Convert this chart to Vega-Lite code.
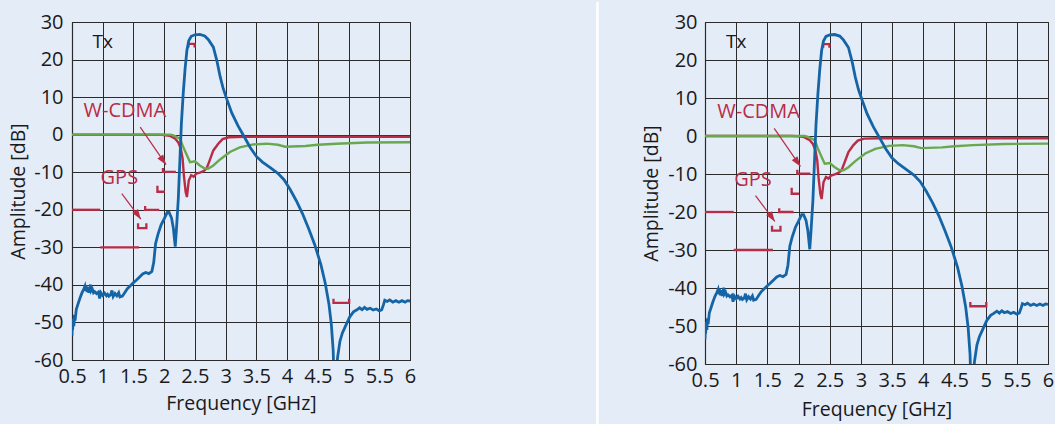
{
  "$schema": "https://vega.github.io/schema/vega-lite/v6.json",
  "background": "#e4ecf8",
  "padding": {"left": 8, "top": 0, "right": 0, "bottom": 0},
  "spacing": 295,
  "bounds": "flush",
  "datasets": {
    "blue": [
      {"f":0.5,"dB":-53.5},{"f":0.505,"dB":-50.5},{"f":0.51,"dB":-52},{"f":0.52,"dB":-49},{"f":0.53,"dB":-51},{"f":0.54,"dB":-48},{"f":0.55,"dB":-49.5},{"f":0.57,"dB":-46.5},{"f":0.6,"dB":-45},{"f":0.63,"dB":-43.5},{"f":0.66,"dB":-42.2},{"f":0.69,"dB":-41.2},{"f":0.71,"dB":-40.4},{"f":0.72,"dB":-41.6},{"f":0.73,"dB":-40.1},{"f":0.745,"dB":-41.9},{"f":0.76,"dB":-40.6},{"f":0.775,"dB":-42.1},{"f":0.79,"dB":-40.9},{"f":0.8,"dB":-39.9},{"f":0.81,"dB":-41.6},{"f":0.83,"dB":-41.1},{"f":0.85,"dB":-42.1},{"f":0.87,"dB":-41.8},{"f":0.9,"dB":-42.3},{"f":0.93,"dB":-41.9},{"f":0.95,"dB":-43.6},{"f":0.97,"dB":-42.1},{"f":1.0,"dB":-42.8},{"f":1.03,"dB":-42.2},{"f":1.06,"dB":-42.9},{"f":1.08,"dB":-42.5},{"f":1.1,"dB":-43},{"f":1.13,"dB":-42.6},{"f":1.15,"dB":-41.5},{"f":1.17,"dB":-43.1},{"f":1.2,"dB":-42.3},{"f":1.23,"dB":-42.9},{"f":1.26,"dB":-42.1},{"f":1.28,"dB":-43.2},{"f":1.32,"dB":-43},{"f":1.36,"dB":-42},{"f":1.4,"dB":-41},{"f":1.45,"dB":-40.2},{"f":1.5,"dB":-39.4},{"f":1.55,"dB":-38.7},{"f":1.6,"dB":-37.9},{"f":1.65,"dB":-37.1},{"f":1.7,"dB":-36.7},{"f":1.75,"dB":-37},{"f":1.8,"dB":-36.4},{"f":1.83,"dB":-34},{"f":1.86,"dB":-29},{"f":1.9,"dB":-26.5},{"f":1.95,"dB":-24},{"f":2.0,"dB":-22.4},{"f":2.05,"dB":-20.7},{"f":2.08,"dB":-20.7},{"f":2.12,"dB":-22.2},{"f":2.15,"dB":-25},{"f":2.18,"dB":-29.8},{"f":2.2,"dB":-25},{"f":2.23,"dB":-17},{"f":2.26,"dB":-5},{"f":2.28,"dB":3},{"f":2.31,"dB":11},{"f":2.34,"dB":17.5},{"f":2.37,"dB":22.5},{"f":2.4,"dB":25},{"f":2.44,"dB":26.2},{"f":2.5,"dB":26.6},{"f":2.58,"dB":26.7},{"f":2.66,"dB":26.3},{"f":2.72,"dB":25.3},{"f":2.8,"dB":23.3},{"f":2.86,"dB":19.5},{"f":2.91,"dB":15.5},{"f":2.96,"dB":12.3},{"f":3.02,"dB":9.4},{"f":3.1,"dB":5.8},{"f":3.2,"dB":2.4},{"f":3.3,"dB":-0.5},{"f":3.4,"dB":-3.4},{"f":3.5,"dB":-5.8},{"f":3.6,"dB":-7.3},{"f":3.72,"dB":-8.7},{"f":3.85,"dB":-10.3},{"f":3.95,"dB":-12},{"f":4.05,"dB":-14.6},{"f":4.15,"dB":-17.6},{"f":4.25,"dB":-21},{"f":4.35,"dB":-25},{"f":4.45,"dB":-29.3},{"f":4.55,"dB":-34.6},{"f":4.62,"dB":-39.5},{"f":4.68,"dB":-45},{"f":4.72,"dB":-50.5},{"f":4.75,"dB":-57.5},{"f":4.765,"dB":-66},{"f":4.785,"dB":-85},{"f":4.805,"dB":-66},{"f":4.82,"dB":-59.5},{"f":4.86,"dB":-55},{"f":4.9,"dB":-52.8},{"f":4.95,"dB":-51},{"f":5.02,"dB":-48.5},{"f":5.08,"dB":-47.2},{"f":5.13,"dB":-46.7},{"f":5.18,"dB":-46.1},{"f":5.22,"dB":-46.6},{"f":5.26,"dB":-46.0},{"f":5.3,"dB":-46.5},{"f":5.35,"dB":-46.2},{"f":5.4,"dB":-46.7},{"f":5.45,"dB":-46.4},{"f":5.5,"dB":-46.9},{"f":5.54,"dB":-46.6},{"f":5.57,"dB":-45.2},{"f":5.59,"dB":-44.1},{"f":5.63,"dB":-44.4},{"f":5.67,"dB":-44.0},{"f":5.72,"dB":-44.6},{"f":5.77,"dB":-44.2},{"f":5.82,"dB":-44.6},{"f":5.87,"dB":-44.2},{"f":5.92,"dB":-44.6},{"f":5.96,"dB":-44.2},{"f":6.0,"dB":-44.3}
    ],
    "red": [
      {"f":0.5,"dB":0},{"f":1.9,"dB":0},{"f":2.0,"dB":-0.1},{"f":2.09,"dB":-0.3},{"f":2.18,"dB":-1.1},{"f":2.23,"dB":-2.1},{"f":2.27,"dB":-3.7},{"f":2.3,"dB":-6.4},{"f":2.32,"dB":-10.8},{"f":2.35,"dB":-15.3},{"f":2.37,"dB":-16.6},{"f":2.4,"dB":-12.2},{"f":2.44,"dB":-10.8},{"f":2.48,"dB":-11.2},{"f":2.52,"dB":-10.4},{"f":2.58,"dB":-10.1},{"f":2.64,"dB":-9.7},{"f":2.69,"dB":-9},{"f":2.73,"dB":-7.3},{"f":2.8,"dB":-4.2},{"f":2.88,"dB":-2.4},{"f":2.95,"dB":-1.2},{"f":3.05,"dB":-0.7},{"f":3.3,"dB":-0.6},{"f":6.0,"dB":-0.6}
    ],
    "green": [
      {"f":0.5,"dB":0},{"f":2.1,"dB":0},{"f":2.15,"dB":-0.2},{"f":2.26,"dB":-1.1},{"f":2.31,"dB":-3.3},{"f":2.37,"dB":-5.5},{"f":2.42,"dB":-7.3},{"f":2.5,"dB":-7.1},{"f":2.58,"dB":-8.2},{"f":2.66,"dB":-9},{"f":2.72,"dB":-9},{"f":2.8,"dB":-8.2},{"f":2.91,"dB":-6.6},{"f":3.07,"dB":-4.6},{"f":3.23,"dB":-3.4},{"f":3.45,"dB":-2.6},{"f":3.67,"dB":-2.4},{"f":3.85,"dB":-2.7},{"f":3.97,"dB":-3.2},{"f":4.3,"dB":-3.0},{"f":4.5,"dB":-2.7},{"f":4.8,"dB":-2.4},{"f":5.3,"dB":-2.1},{"f":6.0,"dB":-2.0}
    ],
    "mask": [
      {"id":"A","o":1,"f":0.5,"dB":-20},{"id":"A","o":2,"f":0.96,"dB":-20},
      {"id":"B","o":1,"f":0.96,"dB":-30},{"id":"B","o":2,"f":1.59,"dB":-30},
      {"id":"C","o":1,"f":1.69,"dB":-19},{"id":"C","o":2,"f":1.69,"dB":-20},{"id":"C","o":3,"f":1.92,"dB":-20},
      {"id":"D","o":1,"f":1.575,"dB":-23.6},{"id":"D","o":2,"f":1.575,"dB":-24.9},{"id":"D","o":3,"f":1.71,"dB":-24.9},{"id":"D","o":4,"f":1.71,"dB":-23.6},
      {"id":"E","o":1,"f":1.89,"dB":-13.6},{"id":"E","o":2,"f":1.89,"dB":-15.2},{"id":"E","o":3,"f":2.01,"dB":-15.2},
      {"id":"F","o":1,"f":1.98,"dB":-8.9},{"id":"F","o":2,"f":1.98,"dB":-9.9},{"id":"F","o":3,"f":2.19,"dB":-9.9},
      {"id":"G","o":1,"f":2.395,"dB":23.2},{"id":"G","o":2,"f":2.395,"dB":24.2},{"id":"G","o":3,"f":2.495,"dB":24.2},{"id":"G","o":4,"f":2.495,"dB":23.2},
      {"id":"H","o":1,"f":4.755,"dB":-43.7},{"id":"H","o":2,"f":4.755,"dB":-44.8},{"id":"H","o":3,"f":5.01,"dB":-44.8},{"id":"H","o":4,"f":5.01,"dB":-43.7}
    ],
    "arrows": [
      {"name":"W-CDMA","f":1.61,"dB":2.0,"f2":2.03,"dB2":-8.0},
      {"name":"GPS","f":1.31,"dB":-15.7,"f2":1.62,"dB2":-22.5}
    ],
    "labels": [
      {"text":"W-CDMA","f":1.36,"dB":6.2},
      {"text":"GPS","f":1.27,"dB":-11.5}
    ],
    "tx": [{"text":"Tx","f":1.0,"dB":24.8}],
    "sep": [{"f":9.05,"dB":35.3,"dB2":-77.6}]
  },
  "hconcat": [
    {
      "width": 338,
      "height": 338,
      "encoding": {
        "x": {"field":"f","type":"quantitative","scale":{"domain":[0.5,6],"nice":false,"zero":false},
              "axis":{"title":"Frequency [GHz]","values":[0.5,1,1.5,2,2.5,3,3.5,4,4.5,5,5.5,6],"labelExpr":"''+datum.value","labelPadding":6,"titlePadding":8,"labelOverlap":false,"labelFlush":false}},
        "y": {"field":"dB","type":"quantitative","scale":{"domain":[-60,30],"nice":false,"zero":false},
              "axis":{"title":"Amplitude [dB]","values":[-60,-50,-40,-30,-20,-10,0,10,20,30],"labelExpr":"''+datum.value","labelPadding":9,"titlePadding":5,"labelOverlap":false,"labelFlush":false}}
      },
      "layer": [
        {"data":{"name":"sep"},"mark":{"type":"rule","color":"#ffffff","strokeWidth":2.5},"encoding":{"y2":{"field":"dB2"}}},
        {"data":{"name":"mask"},"mark":{"type":"line","color":"#b82c45","strokeWidth":2.3,"clip":true},"encoding":{"detail":{"field":"id"},"order":{"field":"o"}}},
        {"data":{"name":"red"},"mark":{"type":"line","color":"#b82c45","strokeWidth":2.4,"clip":true},"encoding":{}},
        {"data":{"name":"green"},"mark":{"type":"line","color":"#6aa84f","strokeWidth":2.4,"clip":true},"encoding":{}},
        {"data":{"name":"blue"},"mark":{"type":"line","color":"#1565a6","strokeWidth":2.8,"clip":true},"encoding":{}},
        {"data":{"name":"arrows"},"mark":{"type":"rule","color":"#b82c45","strokeWidth":1.2},"encoding":{"x2":{"field":"f2"},"y2":{"field":"dB2"}}},
        {"data":{"name":"arrows"},"mark":{"type":"point","shape":"M0,0L-0.42,1.2L0.42,1.2Z","filled":true,"color":"#b82c45","opacity":1,"size":280,"angle":145},"encoding":{"x":{"field":"f2","type":"quantitative"},"y":{"field":"dB2","type":"quantitative"}}},
        {"data":{"name":"labels"},"mark":{"type":"text","color":"#b82c45","fontSize":20,"font":"Open Sans","align":"center","baseline":"middle"},"encoding":{"text":{"field":"text"}}},
        {"data":{"name":"tx"},"mark":{"type":"text","color":"#1a1a1a","fontSize":19,"font":"Open Sans","align":"center","baseline":"middle"},"encoding":{"text":{"field":"text"}}}
      ]
    },
    {
      "width": 343,
      "height": 342,
      "encoding": {
        "x": {"field":"f","type":"quantitative","scale":{"domain":[0.5,6],"nice":false,"zero":false},
              "axis":{"title":"Frequency [GHz]","values":[0.5,1,1.5,2,2.5,3,3.5,4,4.5,5,5.5,6],"labelExpr":"''+datum.value","labelPadding":6,"titlePadding":10,"labelOverlap":false,"labelFlush":false}},
        "y": {"field":"dB","type":"quantitative","scale":{"domain":[-60,30],"nice":false,"zero":false},
              "axis":{"title":"Amplitude [dB]","values":[-60,-50,-40,-30,-20,-10,0,10,20,30],"labelExpr":"''+datum.value","labelPadding":8,"titlePadding":6,"labelOverlap":false,"labelFlush":false}}
      },
      "layer": [
        {"data":{"name":"mask"},"mark":{"type":"line","color":"#b82c45","strokeWidth":2.3,"clip":true},"encoding":{"detail":{"field":"id"},"order":{"field":"o"}}},
        {"data":{"name":"red"},"mark":{"type":"line","color":"#b82c45","strokeWidth":2.4,"clip":true},"encoding":{}},
        {"data":{"name":"green"},"mark":{"type":"line","color":"#6aa84f","strokeWidth":2.4,"clip":true},"encoding":{}},
        {"data":{"name":"blue"},"mark":{"type":"line","color":"#1565a6","strokeWidth":2.8,"clip":true},"encoding":{}},
        {"data":{"name":"arrows"},"mark":{"type":"rule","color":"#b82c45","strokeWidth":1.2},"encoding":{"x2":{"field":"f2"},"y2":{"field":"dB2"}}},
        {"data":{"name":"arrows"},"mark":{"type":"point","shape":"M0,0L-0.42,1.2L0.42,1.2Z","filled":true,"color":"#b82c45","opacity":1,"size":280,"angle":145},"encoding":{"x":{"field":"f2","type":"quantitative"},"y":{"field":"dB2","type":"quantitative"}}},
        {"data":{"name":"labels"},"mark":{"type":"text","color":"#b82c45","fontSize":20,"font":"Open Sans","align":"center","baseline":"middle"},"encoding":{"text":{"field":"text"}}},
        {"data":{"name":"tx"},"mark":{"type":"text","color":"#1a1a1a","fontSize":19,"font":"Open Sans","align":"center","baseline":"middle"},"encoding":{"text":{"field":"text"}}}
      ]
    }
  ],
  "config": {
    "view": {"stroke": "#2b2b2b", "strokeWidth": 1},
    "axis": {
      "grid": true, "gridColor": "#2b2b2b", "gridOpacity": 1, "gridWidth": 1,
      "domain": true, "domainColor": "#2b2b2b", "domainWidth": 1.2,
      "ticks": false,
      "labelFont": "Open Sans", "labelFontSize": 20, "labelColor": "#1a1a1a",
      "titleFont": "Open Sans", "titleFontSize": 19.5, "titleFontWeight": "normal", "titleColor": "#1a1a1a"
    }
  }
}
